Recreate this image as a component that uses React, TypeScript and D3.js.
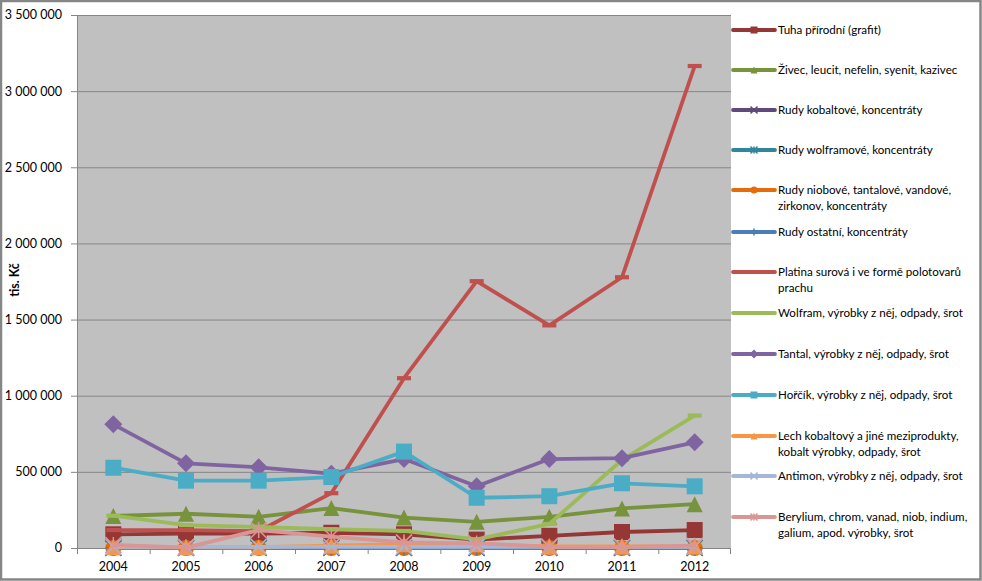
import React, { useEffect, useRef } from "react";
import * as d3 from "d3";

const years = ["2004", "2005", "2006", "2007", "2008", "2009", "2010", "2011", "2012"];
const yTicks = [0, 500000, 1000000, 1500000, 2000000, 2500000, 3000000, 3500000];

const tuha = [90000, 95000, 95000, 100000, 90000, 55000, 80000, 105000, 118000];
const zivec = [210000, 225000, 205000, 262000, 200000, 172000, 205000, 260000, 288000];
const rudyKobalt = [2000, 2000, 2000, 2000, 2000, 2000, 2000, 2000, 2000];
const rudyWolfram = [1000, 1000, 1000, 1000, 1000, 1000, 1000, 1000, 1000];
const rudyNiob = [0, 0, 0, 0, 0, 0, 0, 0, 0];
const rudyOstatni = [1000, 1000, 1000, 1000, 1000, 1000, 1000, 1000, 1000];
const platina = [118000, 118000, 110000, 360000, 1115000, 1752000, 1462000, 1778000, 3165000];
const wolfram = [212000, 150000, 138000, 123000, 112000, 57000, 158000, 578000, 870000];
const tantal = [812000, 556000, 530000, 488000, 584000, 405000, 584000, 590000, 694000];
const horcik = [527000, 442000, 442000, 466000, 633000, 330000, 340000, 425000, 405000];
const lech = [5000, 5000, 5000, 15000, 25000, 25000, 10000, 10000, 10000];
const antimon = [8000, 8000, 8000, 8000, 8000, 8000, 8000, 8000, 8000];
const berylium = [20000, 3000, 118000, 75000, 37000, 30000, 8000, 8000, 15000];

const legendLabels = [
    ["Tuha přírodní (grafit)"],
    ["Živec, leucit, nefelin, syenit, kazivec"],
    ["Rudy kobaltové, koncentráty"],
    ["Rudy wolframové, koncentráty"],
    ["Rudy niobové, tantalové, vandové,", "zirkonov, koncentráty"],
    ["Rudy ostatní, koncentráty"],
    ["Platina surová i ve formě polotovarů", "prachu"],
    ["Wolfram, výrobky z něj, odpady, šrot"],
    ["Tantal, výrobky z něj, odpady, šrot"],
    ["Hořčík, výrobky z něj, odpady, šrot"],
    ["Lech kobaltový a jiné meziprodukty,", "kobalt výrobky, odpady, šrot"],
    ["Antimon, výrobky z něj, odpady, šrot"],
    ["Berylium, chrom, vanad, niob, indium,", "galium, apod. výrobky, šrot"],
];

type Marker = "square" | "triangle" | "x" | "star" | "circle" | "plus" | "dash" | "diamond";

const series: { values: number[]; color: string; marker: Marker }[] = [
    { values: tuha, color: "#953735", marker: "square" },
    { values: zivec, color: "#77933C", marker: "triangle" },
    { values: rudyKobalt, color: "#604A7B", marker: "x" },
    { values: rudyWolfram, color: "#31859C", marker: "star" },
    { values: rudyNiob, color: "#E46C0A", marker: "circle" },
    { values: rudyOstatni, color: "#4A7EBB", marker: "plus" },
    { values: platina, color: "#C0504D", marker: "dash" },
    { values: wolfram, color: "#9BBB59", marker: "dash" },
    { values: tantal, color: "#8064A2", marker: "diamond" },
    { values: horcik, color: "#4BACC6", marker: "square" },
    { values: lech, color: "#F79646", marker: "triangle" },
    { values: antimon, color: "#A5B6D7", marker: "x" },
    { values: berylium, color: "#D99694", marker: "star" },
];

const W = 982;
const H = 581;
const plot = { left: 77, right: 731, top: 15, bottom: 548 };
const FONT = "Lato, 'Open Sans', sans-serif";

function drawMarker(g: d3.Selection<SVGGElement, unknown, null, undefined>, kind: Marker, x: number, y: number, s: number, color: string) {
    const h = s / 2;
    if (kind === "square") {
        g.append("rect").attr("x", x - h).attr("y", y - h).attr("width", s).attr("height", s).attr("fill", color);
    } else if (kind === "diamond") {
        g.append("path").attr("d", `M${x},${y - h - 1}L${x + h + 1},${y}L${x},${y + h + 1}L${x - h - 1},${y}Z`).attr("fill", color);
    } else if (kind === "triangle") {
        g.append("path").attr("d", `M${x},${y - h}L${x + h},${y + h}L${x - h},${y + h}Z`).attr("fill", color);
    } else if (kind === "circle") {
        g.append("circle").attr("cx", x).attr("cy", y).attr("r", h).attr("fill", color);
    } else if (kind === "dash") {
        g.append("rect").attr("x", x - h).attr("y", y - s * 0.15).attr("width", s).attr("height", s * 0.3).attr("fill", color);
    } else {
        let d = "";
        if (kind === "x" || kind === "star") d += `M${x - h},${y - h}L${x + h},${y + h}M${x - h},${y + h}L${x + h},${y - h}`;
        if (kind === "plus") d += `M${x - h},${y}L${x + h},${y}`;
        if (kind === "plus" || kind === "star") d += `M${x},${y - h}L${x},${y + h}`;
        g.append("path").attr("d", d).attr("stroke", color).attr("stroke-width", 1.5).attr("fill", "none");
    }
}

const App: React.FC = () => {
    const svgRef = useRef<SVGSVGElement>(null);

    useEffect(() => {
        if (!svgRef.current) return;
        const svg = d3.select(svgRef.current);
        svg.selectAll("*").remove();

        const x = d3.scaleBand().domain(years).range([plot.left, plot.right]);
        const y = d3.scaleLinear().domain([0, 3500000]).range([plot.bottom, plot.top]);
        const cx = (yr: string) => (x(yr) || 0) + x.bandwidth() / 2;
        const fmt = (v: number) => d3.format(",")(v).replace(/,/g, " ");

        // background + border
        svg.append("rect").attr("x", 1).attr("y", 1).attr("width", W - 2.5).attr("height", H - 2.5)
            .attr("fill", "#fff").attr("stroke", "#868686").attr("stroke-width", 2.5);

        // plot area
        svg.append("rect").attr("x", plot.left).attr("y", plot.top)
            .attr("width", plot.right - plot.left).attr("height", plot.bottom - plot.top).attr("fill", "#C0C0C0");

        // gridlines + y ticks
        const grid = svg.append("g");
        yTicks.forEach((t) => {
            grid.append("line").attr("x1", plot.left - 6).attr("x2", plot.right)
                .attr("y1", y(t) + 0.5).attr("y2", y(t) + 0.5).attr("stroke", "#868686");
            svg.append("text").attr("x", 62).attr("y", y(t)).attr("dy", "0.35em")
                .attr("text-anchor", "end").attr("font-family", FONT).attr("font-size", 12.5)
                .attr("fill", "#000").text(fmt(t));
        });
        svg.append("line").attr("x1", plot.left + 0.5).attr("x2", plot.left + 0.5)
            .attr("y1", plot.top).attr("y2", plot.bottom).attr("stroke", "#868686");

        // x axis ticks + labels
        years.forEach((yr, i) => {
            const bx = x(yr) || 0;
            svg.append("line").attr("x1", bx + 0.5).attr("x2", bx + 0.5)
                .attr("y1", plot.bottom).attr("y2", plot.bottom + 6).attr("stroke", "#868686");
            if (i === years.length - 1) {
                svg.append("line").attr("x1", plot.right - 0.5).attr("x2", plot.right - 0.5)
                    .attr("y1", plot.bottom).attr("y2", plot.bottom + 6).attr("stroke", "#868686");
            }
            svg.append("text").attr("x", cx(yr)).attr("y", 571).attr("text-anchor", "middle")
                .attr("font-family", FONT).attr("font-size", 12.5).text(yr);
        });

        // y title
        svg.append("text").attr("transform", `translate(19,280) rotate(-90)`)
            .attr("text-anchor", "middle").attr("font-family", FONT).attr("font-size", 12.5)
            .attr("font-weight", "bold").text("tis. Kč");

        // series
        const line = d3.line<number>().x((_, i) => cx(years[i])).y((d) => y(d));
        series.forEach((s) => {
            const g = svg.append("g");
            g.append("path").attr("d", line(s.values)).attr("fill", "none")
                .attr("stroke", s.color).attr("stroke-width", 3.8).attr("stroke-linejoin", "round");
            s.values.forEach((v, i) => {
                drawMarker(g, s.marker, cx(years[i]), y(v), s.marker === "dash" ? 14 : 16, s.color);
            });
        });

        // legend
        const legendY = [30, 70, 110, 150, 190, 232, 272, 313, 354, 395, 436, 476, 517];
        series.forEach((s, i) => {
            const g = svg.append("g");
            const ly = legendY[i];
            g.append("line").attr("x1", 733).attr("x2", 775).attr("y1", ly).attr("y2", ly)
                .attr("stroke", s.color).attr("stroke-width", 3.8).attr("stroke-linecap", "round");
            drawMarker(g, s.marker, 754, ly, 7, s.color);
            legendLabels[i].forEach((ln, j) => {
                g.append("text").attr("x", 778).attr("y", ly + j * 16).attr("dy", "0.35em")
                    .attr("font-family", FONT).attr("font-size", 11.6).text(ln);
            });
        });
    }, []);

    return (
        <svg
            ref={svgRef}
            width={W}
            height={H}
            style={{ position: "absolute", left: 0, top: 0, display: "block" }}
        />
    );
};

export default App;
